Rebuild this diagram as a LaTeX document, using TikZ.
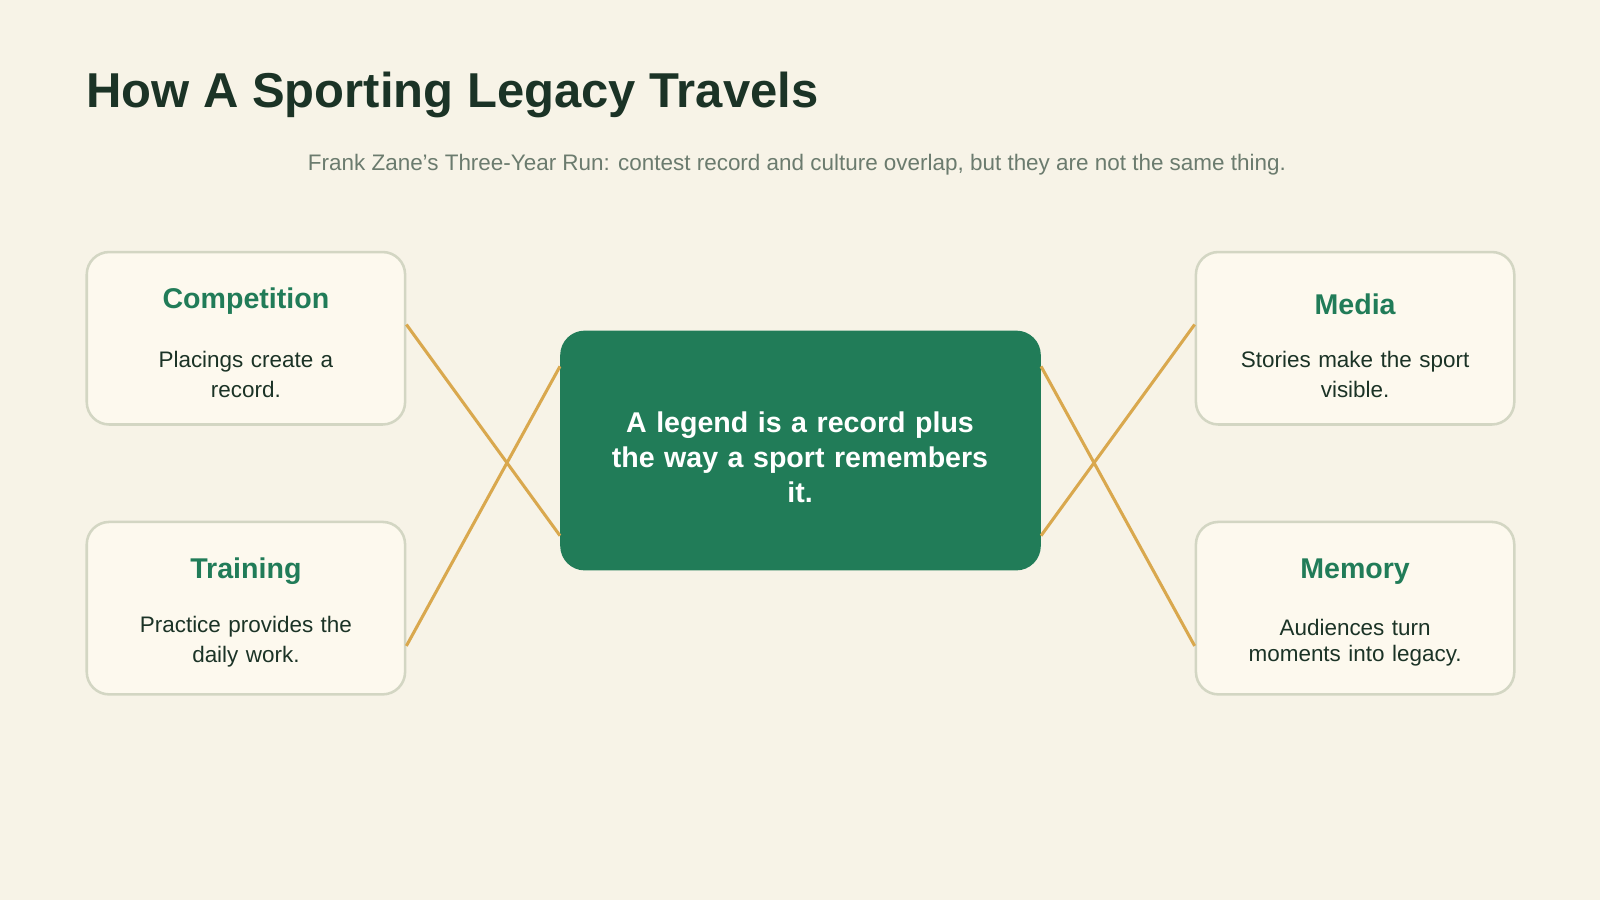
\documentclass[tikz,border=0pt]{standalone}
\usepackage{fontspec}
\setmainfont{Liberation Sans}
\definecolor{bg}{HTML}{F7F3E7}
\definecolor{boxfill}{HTML}{FDF9EE}
\definecolor{boxline}{HTML}{D3D6C3}
\definecolor{green}{HTML}{217C58}
\definecolor{dark}{HTML}{1B3326}
\definecolor{sub}{HTML}{6B7B6E}
\definecolor{gold}{HTML}{D9A84E}
\begin{document}
\begin{tikzpicture}[x=1pt,y=-1pt,
  card/.style={draw=boxline,line width=2.5pt,fill=boxfill,rounded corners=22pt,minimum width=312pt,minimum height=169pt,inner sep=0pt},
  ttl/.style={font=\fontsize{28}{32}\selectfont\bfseries,text=green},
  body/.style={font=\fontsize{22}{29}\selectfont,text=dark,align=center,text width=280pt},
  link/.style={draw=gold,line width=3pt}]
\fill[bg] (0,0) rectangle (1568,882);
\useasboundingbox (0,0) rectangle (1568,882);
\node[anchor=base west,font=\fontsize{48}{56}\selectfont\bfseries,text=dark] (title) at (81,105) {How A Sporting Legacy Travels};
\node[anchor=base,font=\fontsize{22}{26}\selectfont,text=sub] (subtitle) at (781,167) {Frank Zane's Three-Year Run: contest record and culture overlap, but they are not the same thing.};

\node[card] (comp) at (241,331.5) {};
\node[card] (media) at (1328,331.5) {};
\node[card] (train) at (241,596) {};
\node[card] (mem) at (1328,596) {};
\node[fill=green,rounded corners=24pt,minimum width=471pt,minimum height=235pt,inner sep=0pt] (center) at (784.5,441.5) {};
\node[text=white,font=\fontsize{28}{34}\selectfont\bfseries,align=center,text width=400pt] (ctext) at (784,448) {A legend is a record plus\\the way a sport remembers\\it.};

\node[ttl] (compT) at (241,295) {Competition};
\node[body] (compB) at (241,367) {Placings create a\\record.};
\node[ttl] (mediaT) at (1328,298) {Media};
\node[body] (mediaB) at (1328,367) {Stories make the sport\\visible.};
\node[ttl] (trainT) at (241,560) {Training};
\node[body] (trainB) at (241,629) {Practice provides the\\daily work.};
\node[ttl] (memT) at (1328,560) {Memory};
\node[body,font=\fontsize{22}{25}\selectfont] (memB) at (1328,630) {Audiences turn\\moments into legacy.};

\draw[link] ([yshift=13.5pt]comp.east) -- ([yshift=-83.5pt]center.west);
\draw[link] ([yshift=-83.5pt]center.east) -- ([yshift=13.5pt]media.west);
\draw[link] ([yshift=-37pt]train.east) -- ([yshift=82.5pt]center.west);
\draw[link] ([yshift=82.5pt]center.east) -- ([yshift=-37pt]mem.west);
\end{tikzpicture}
\end{document}
